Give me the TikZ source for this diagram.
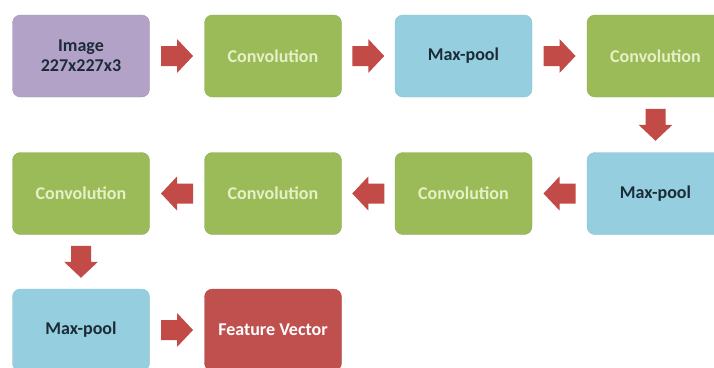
\documentclass[tikz,border=0pt]{standalone}
\usepackage{fontspec}
\setmainfont{Carlito}
\usetikzlibrary{calc}
\definecolor{imgfill}{HTML}{B3A2C7}
\definecolor{convfill}{HTML}{9BBB59}
\definecolor{poolfill}{HTML}{95CFDF}
\definecolor{featfill}{HTML}{C0504D}
\definecolor{arrowred}{HTML}{C24A47}
\definecolor{convtext}{HTML}{E6F0C6}
\definecolor{darktext}{HTML}{1C2B38}
\begin{document}
\begin{tikzpicture}[x=1pt,y=1pt,
  box/.style={rounded corners=8pt, minimum width=137pt, minimum height=82pt,
    inner sep=0pt, align=center, font=\fontsize{18}{20}\selectfont\bfseries},
  imgbox/.style={box, fill=imgfill, draw=imgfill!90!black, line width=0.4pt, text=darktext},
  convbox/.style={box, fill=convfill, draw=convfill!92!black, line width=0.4pt, text=convtext},
  poolbox/.style={box, fill=poolfill, draw=poolfill!92!black, line width=0.4pt, text=darktext},
  featbox/.style={box, fill=featfill, draw=featfill!92!black, line width=0.4pt, text=white},
  blockarr/.pic={\fill[arrowred] (-16,-10) -- (0,-10) -- (0,-17) -- (16,0) -- (0,17) -- (0,10) -- (-16,10) -- cycle;}
]
\useasboundingbox (0,0) rectangle (714,-367);
\clip (0,0) rectangle (714,-367);
% row 1
\node[imgbox]  (img) at (81,-56)    {Image\\227x227x3};
\node[convbox] (c1)  at (273,-56)   {Convolution};
\node[poolbox] (p1)  at (463.5,-56) {Max-pool};
\node[convbox] (c2)  at (655.5,-56) {Convolution};
% row 2
\node[poolbox] (p2)  at (655.5,-193.5) {Max-pool};
\node[convbox] (c3)  at (463.5,-193.5) {Convolution};
\node[convbox] (c4)  at (273,-193.5)   {Convolution};
\node[convbox] (c5)  at (81,-193.5)    {Convolution};
% row 3
\node[poolbox] (p3)  at (81,-330)  {Max-pool};
\node[featbox] (fv)  at (273,-330) {Feature Vector};
% arrows
\pic at ($(img.east)!0.5!(c1.west)$) {blockarr};
\pic at ($(c1.east)!0.5!(p1.west)$) {blockarr};
\pic at ($(p1.east)!0.5!(c2.west)$) {blockarr};
\pic[rotate=-90] at ($(c2.south)!0.5!(p2.north)$) {blockarr};
\pic[rotate=180] at ($(p2.west)!0.5!(c3.east)$) {blockarr};
\pic[rotate=180] at ($(c3.west)!0.5!(c4.east)$) {blockarr};
\pic[rotate=180] at ($(c4.west)!0.5!(c5.east)$) {blockarr};
\pic[rotate=-90] at ($(c5.south)!0.5!(p3.north)$) {blockarr};
\pic at ($(p3.east)!0.5!(fv.west)$) {blockarr};
\end{tikzpicture}
\end{document}
